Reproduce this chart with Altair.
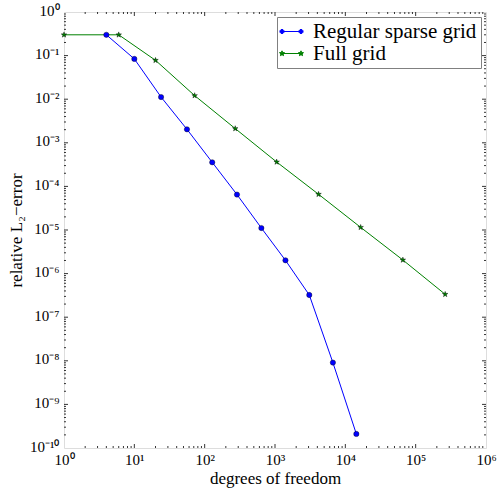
import math
import altair as alt
import pandas as pd

# Convergence data: degrees of freedom vs. relative L2 error
sparse_dof = [4, 10, 24, 56, 128, 288, 640, 1408, 3072, 6656, 14336]
sparse_err = [0.30, 0.084, 0.0112, 0.00204, 3.57e-4, 6.5e-5, 1.11e-5, 2.02e-6, 3.23e-7, 9.1e-9, 2.1e-10]
full_dof = [1, 6, 20, 72, 272, 1056, 4160, 16512, 65792, 262656]
full_err = [0.30, 0.30, 0.078, 0.0121, 0.00212, 3.63e-4, 6.6e-5, 1.15e-5, 2.05e-6, 3.35e-7]

series_names = ["Regular sparse grid", "Full grid"]
series_colors = ["#0000ff", "#008000"]

# Axis ticks (log scale)
x_major = [1, 10, 100, 1000, 1e4, 1e5, 1e6]
x_major_labels = ["10⁰", "10¹", "10²", "10³", "10⁴", "10⁵", "10⁶"]
y_major = [1e-10, 1e-9, 1e-8, 1e-7, 1e-6, 1e-5, 1e-4, 1e-3, 1e-2, 1e-1, 1]
y_major_labels = ["10⁻¹⁰", "10⁻⁹", "10⁻⁸", "10⁻⁷", "10⁻⁶", "10⁻⁵",
                  "10⁻⁴", "10⁻³", "10⁻²", "10⁻¹", "10⁰"]
minor_mult = [2, 3, 4, 5, 6, 7, 8, 9]
x_minor = [m * d for d in x_major[:-1] for m in minor_mult]
y_minor = [m * d for d in y_major[:-1] for m in minor_mult]

W, H = 422, 436
FONT = "Liberation Serif"

sparse_df = pd.DataFrame({"dof": sparse_dof, "err": sparse_err, "series": series_names[0]})
full_df = pd.DataFrame({"dof": full_dof, "err": full_err, "series": series_names[1]})
df = pd.concat([sparse_df, full_df])

xscale = alt.Scale(type="log", domain=[1, 1e6], nice=False)
yscale = alt.Scale(type="log", domain=[1e-10, 1], nice=False)


def poly_path(points):
    return "M" + "L".join(f"{x:.3f},{y:.3f}" for x, y in points) + "Z"


def star_points(cx, r_out, r_in):
    pts = []
    for k in range(10):
        r = r_out if k % 2 == 0 else r_in
        a = -math.pi / 2 + k * math.pi / 5
        pts.append((cx + r * math.cos(a), r * math.sin(a)))
    return pts


def circle_points(cx, r, n=12):
    return [(cx + r * math.cos(2 * math.pi * k / n), r * math.sin(2 * math.pi * k / n)) for k in range(n)]


star_marker = poly_path(star_points(0, 1, 0.4))
legend_circle = "M-1,0L1,0" + poly_path(circle_points(-1, 0.22)) + poly_path(circle_points(1, 0.22))
legend_star = "M-1,0L1,0" + poly_path(star_points(-1, 0.28, 0.12)) + poly_path(star_points(1, 0.28, 0.12))

color_scale = alt.Scale(domain=series_names, range=series_colors)

legend = alt.Legend(
    title=None,
    orient="top-right",
    offset=5,
    padding=4,
    strokeColor="#808080",
    fillColor="white",
    labelFont=FONT,
    labelFontSize=21,
    labelColor="black",
    labelLimit=400,
    labelOffset=11,
    rowPadding=0,
    symbolSize=361,
    symbolStrokeWidth=1,
)

x_axis = alt.Axis(
    values=x_major,
    labelExpr="[" + ",".join(f"'{s}'" for s in x_major_labels) + "][round(log(datum.value)/LN10)]",
    ticks=False, domain=False, grid=False,
    labelFont=FONT, labelFontSize=15, labelColor="black", labelPadding=4,
    labelFlush=False, labelOverlap=False,
    title="degrees of freedom", titleFont=FONT, titleFontSize=17,
    titleFontWeight="normal", titleColor="black", titlePadding=3,
)
y_axis = alt.Axis(
    values=y_major,
    labelExpr="[" + ",".join(f"'{s}'" for s in y_major_labels) + "][round(log(datum.value)/LN10)+10]",
    ticks=False, domain=False, grid=False,
    labelFont=FONT, labelFontSize=15, labelColor="black", labelPadding=5,
    labelOffset=-2, labelFlush=False, labelOverlap=False,
    title="relative L₂−error", titleFont=FONT, titleFontSize=17,
    titleFontWeight="normal", titleColor="black", titlePadding=4,
)


def X(field):
    return alt.X(field, type="quantitative", scale=xscale, axis=x_axis)


def Y(field):
    return alt.Y(field, type="quantitative", scale=yscale, axis=y_axis)


sparse_line = alt.Chart(sparse_df).mark_line(strokeWidth=1, color=series_colors[0]).encode(
    x=X("dof"), y=Y("err"))
full_line = alt.Chart(full_df).mark_line(strokeWidth=1, color=series_colors[1]).encode(
    x=X("dof"), y=Y("err"))

sparse_pts = alt.Chart(sparse_df).mark_point(
    shape="circle", filled=True, fill=series_colors[0], stroke="black",
    strokeWidth=0.4, opacity=1, size=28,
).encode(x=X("dof"), y=Y("err"))

full_pts = alt.Chart(full_df).mark_point(
    shape=star_marker, filled=True, fill=series_colors[1], stroke="black",
    strokeWidth=0.4, opacity=1, size=34,
).encode(x=X("dof"), y=Y("err"))

# Legend-only layer: no rows pass the filter, it just carries the key
key = alt.Chart(df).transform_filter("datum.dof < 0").mark_point(filled=True, opacity=1).encode(
    x=X("dof"), y=Y("err"),
    fill=alt.Fill("series:N", scale=color_scale, legend=legend),
    stroke=alt.Stroke("series:N", scale=color_scale, legend=legend),
    shape=alt.Shape("series:N", scale=alt.Scale(domain=series_names, range=[legend_circle, legend_star]), legend=legend),
)


def tick_layer(values, channel, length, side):
    data = pd.DataFrame({"v": values})
    base = alt.Chart(data).mark_rule(color="black", strokeWidth=0.8)
    if channel == "x":
        y0 = H if side == "near" else 0
        y1 = H - length if side == "near" else length
        return base.encode(x=X("v"), y=alt.value(y0), y2=alt.value(y1))
    x0 = 0 if side == "near" else W
    x1 = length if side == "near" else W - length
    return base.encode(y=Y("v"), x=alt.value(x0), x2=alt.value(x1))


ticks = []
for side in ("near", "far"):
    ticks.append(tick_layer(x_major[1:-1], "x", 4, side))
    ticks.append(tick_layer(x_minor, "x", 2, side))
    ticks.append(tick_layer(y_major[1:-1], "y", 4, side))
    ticks.append(tick_layer(y_minor, "y", 2, side))

chart = alt.layer(sparse_line, full_line, *ticks, sparse_pts, full_pts, key).properties(
    width=W, height=H,
    autosize=alt.AutoSizeParams(type="none"),
    padding={"left": 64, "top": 12, "right": 11, "bottom": 40},
).configure_view(stroke="#222222", strokeWidth=1).configure(background="white")

chart.save("out.html", embed_options={"renderer": "svg", "actions": False})
